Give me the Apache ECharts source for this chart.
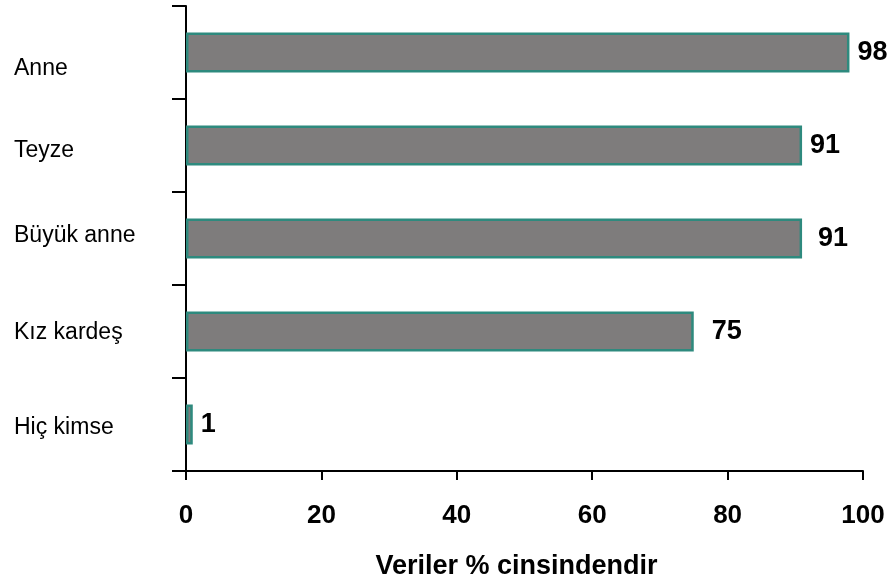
<!DOCTYPE html>
<html>
<head>
<meta charset="utf-8">
<script src="https://cdn.jsdelivr.net/npm/echarts@6/dist/echarts.min.js"></script>
<style>
html,body{margin:0;padding:0;background:#fff;}
#chart{width:893px;height:588px;}
</style>
</head>
<body>
<div id="chart"></div>
<script>
const categories = ["Anne", "Teyze", "Büyük anne", "Kız kardeş", "Hiç kimse"];
const values = [98, 91, 91, 75, 1];
const xTicks = [0, 20, 40, 60, 80, 100];
const axisTitle = "Veriler % cinsindendir";

// small visual nudges seen in the reference (styling, not data)
const labelShift = [16.5, 5.5, -3, 1, 3];
const valueDist = [8, 8, 16, 18, 8];

const FONT = '"Liberation Sans", Arial, sans-serif';
const chart = echarts.init(document.getElementById('chart'), null, { renderer: 'canvas' });

const rich = {};
categories.forEach((c, i) => {
  const s = labelShift[i];
  rich['c' + i] = {
    fontFamily: FONT, fontSize: 23, color: '#000',
    padding: s >= 0 ? [2 * s, 0, 0, 0] : [0, 0, -2 * s, 0]
  };
});

chart.setOption({
  animation: false,
  backgroundColor: '#fff',
  grid: { left: 186, right: 30, top: 6, bottom: 117, containLabel: false },
  xAxis: {
    type: 'value', min: xTicks[0], max: xTicks[xTicks.length - 1], interval: 20,
    name: axisTitle, nameLocation: 'middle', nameGap: 82,
    nameTextStyle: { fontFamily: FONT, fontSize: 27, fontWeight: 'bold', color: '#000', padding: [0, 16, 0, 0] },
    axisLine: { show: true, lineStyle: { color: '#000', width: 2 } },
    axisTick: { show: true, length: 9, lineStyle: { color: '#000', width: 2 } },
    axisLabel: { margin: 32, fontFamily: FONT, fontSize: 26, fontWeight: 'bold', color: '#000' },
    splitLine: { show: false }
  },
  yAxis: {
    type: 'category', data: categories, inverse: true,
    axisLine: { show: true, lineStyle: { color: '#000', width: 2 } },
    axisTick: { show: true, length: 14, lineStyle: { color: '#000', width: 2 } },
    axisLabel: {
      align: 'left', margin: 172,
      formatter: (v) => '{c' + categories.indexOf(v) + '|' + v + '}',
      rich: rich
    },
    splitLine: { show: false }
  },
  series: [{
    type: 'bar',
    barWidth: 40,
    data: values.map((v, i) => ({
      value: v,
      label: { distance: valueDist[i] }
    })),
    itemStyle: { color: '#7e7c7c', borderColor: '#2e8a7e', borderWidth: 2.5 },
    label: {
      show: true, position: 'right',
      fontFamily: FONT, fontSize: 27, fontWeight: 'bold', color: '#000'
    }
  }]
});
</script>
</body>
</html>
